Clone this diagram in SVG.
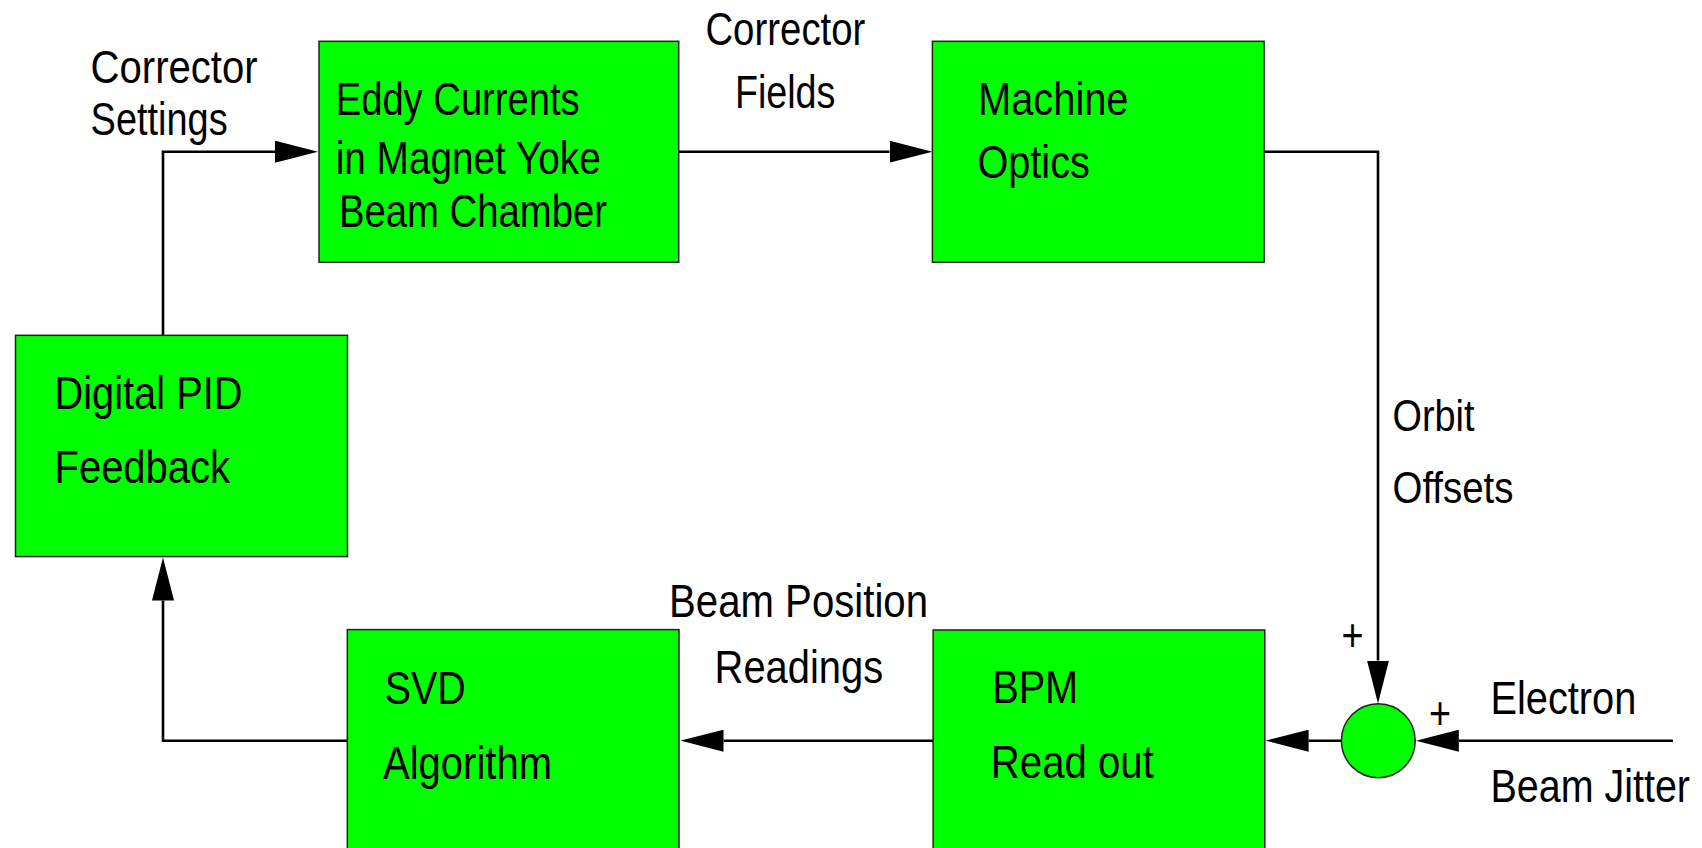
<svg xmlns="http://www.w3.org/2000/svg" width="1702" height="848" viewBox="0 0 1702 848">
<style>
.box{fill:#00ff00;stroke:#222;stroke-width:1.5}
.t{font-family:"Liberation Sans",Arial,Helvetica,sans-serif;font-size:47px;fill:#000}
.s{font-family:"Liberation Sans",Arial,Helvetica,sans-serif;font-size:45px;fill:#000}
.c{fill:none;stroke:#000;stroke-width:2.6}
</style>
<defs>
<marker id="ah" markerUnits="userSpaceOnUse" viewBox="0 0 43 22" markerWidth="43" markerHeight="22" refX="0" refY="11" orient="auto">
<path d="M0,0 L43,11 L0,22 Z" fill="#000"/>
</marker>
</defs>
<rect width="1702" height="848" fill="#fff"/>
<g id="connectors">
<path class="c" d="M163,335.3 V151.7 H275" marker-end="url(#ah)"/>
<path class="c" d="M678.7,151.7 H889.5" marker-end="url(#ah)"/>
<path class="c" d="M1264,151.7 H1378 V660.5" marker-end="url(#ah)"/>
<path class="c" d="M1673,740.7 H1458.8" marker-end="url(#ah)"/>
<path class="c" d="M1341.4,740.7 H1308.6" marker-end="url(#ah)"/>
<path class="c" d="M933,740.7 H723.5" marker-end="url(#ah)"/>
<path class="c" d="M347.3,740.8 H163 V600.5" marker-end="url(#ah)"/>
</g>
<g id="label-corrector-settings">
<text class="t" x="90.6" y="82.7" textLength="167" lengthAdjust="spacingAndGlyphs">Corrector</text>
<text class="t" x="90.6" y="135" textLength="137" lengthAdjust="spacingAndGlyphs">Settings</text>
</g>
<g id="label-corrector-fields">
<text class="t" x="705.4" y="45" textLength="160" lengthAdjust="spacingAndGlyphs">Corrector</text>
<text class="t" x="734.9" y="108.3" textLength="100.5" lengthAdjust="spacingAndGlyphs">Fields</text>
</g>
<g id="label-orbit-offsets">
<text class="s" x="1392.5" y="431" textLength="82" lengthAdjust="spacingAndGlyphs">Orbit</text>
<text class="s" x="1392.5" y="502.6" textLength="121" lengthAdjust="spacingAndGlyphs">Offsets</text>
</g>
<g id="label-beam-position">
<text class="t" x="669" y="616.7" textLength="259" lengthAdjust="spacingAndGlyphs">Beam Position</text>
<text class="t" x="714.6" y="682.7" textLength="168.6" lengthAdjust="spacingAndGlyphs">Readings</text>
</g>
<g id="label-electron-jitter">
<text class="t" x="1490.4" y="714.3" textLength="146" lengthAdjust="spacingAndGlyphs">Electron</text>
<text class="t" transform="translate(1490.4,802.3) scale(0.84,1)" x="0" y="0">Beam Jitter</text>
</g>
<g id="eddy">
<rect class="box" x="319" y="41.3" width="359.7" height="221"/>
<text class="t" x="335.7" y="115" textLength="244" lengthAdjust="spacingAndGlyphs">Eddy Currents</text>
<text class="t" x="335.7" y="174" textLength="265" lengthAdjust="spacingAndGlyphs">in Magnet Yoke</text>
<text class="t" x="339" y="226.7" textLength="268" lengthAdjust="spacingAndGlyphs">Beam Chamber</text>
</g>
<g id="machine">
<rect class="box" x="932.4" y="41.3" width="331.7" height="221"/>
<text class="t" x="978.1" y="115" textLength="150.4" lengthAdjust="spacingAndGlyphs">Machine</text>
<text class="t" x="977.4" y="178" textLength="112.4" lengthAdjust="spacingAndGlyphs">Optics</text>
</g>
<g id="pid">
<rect class="box" x="15.5" y="335.3" width="332" height="221.3"/>
<text class="t" x="54.5" y="409.4" textLength="188" lengthAdjust="spacingAndGlyphs">Digital PID</text>
<text class="t" x="54.5" y="482.8" textLength="175.5" lengthAdjust="spacingAndGlyphs">Feedback</text>
</g>
<g id="svd">
<rect class="box" x="347.3" y="629.6" width="331.7" height="230"/>
<text class="t" x="384.8" y="703.7" textLength="81" lengthAdjust="spacingAndGlyphs">SVD</text>
<text class="t" x="383" y="778.9" textLength="169" lengthAdjust="spacingAndGlyphs">Algorithm</text>
</g>
<g id="bpm">
<rect class="box" x="933.1" y="630" width="331.7" height="230"/>
<text class="t" x="992.2" y="703.3" textLength="86" lengthAdjust="spacingAndGlyphs">BPM</text>
<text class="t" x="990.8" y="778.3" textLength="163" lengthAdjust="spacingAndGlyphs">Read out</text>
</g>
<g id="sum">
<ellipse class="box" cx="1378.3" cy="740.7" rx="36.9" ry="37"/>
<text class="t" x="1352.5" y="651" text-anchor="middle" textLength="22" lengthAdjust="spacingAndGlyphs">+</text>
<text class="t" x="1440" y="729" text-anchor="middle" textLength="22" lengthAdjust="spacingAndGlyphs">+</text>
</g>
</svg>
